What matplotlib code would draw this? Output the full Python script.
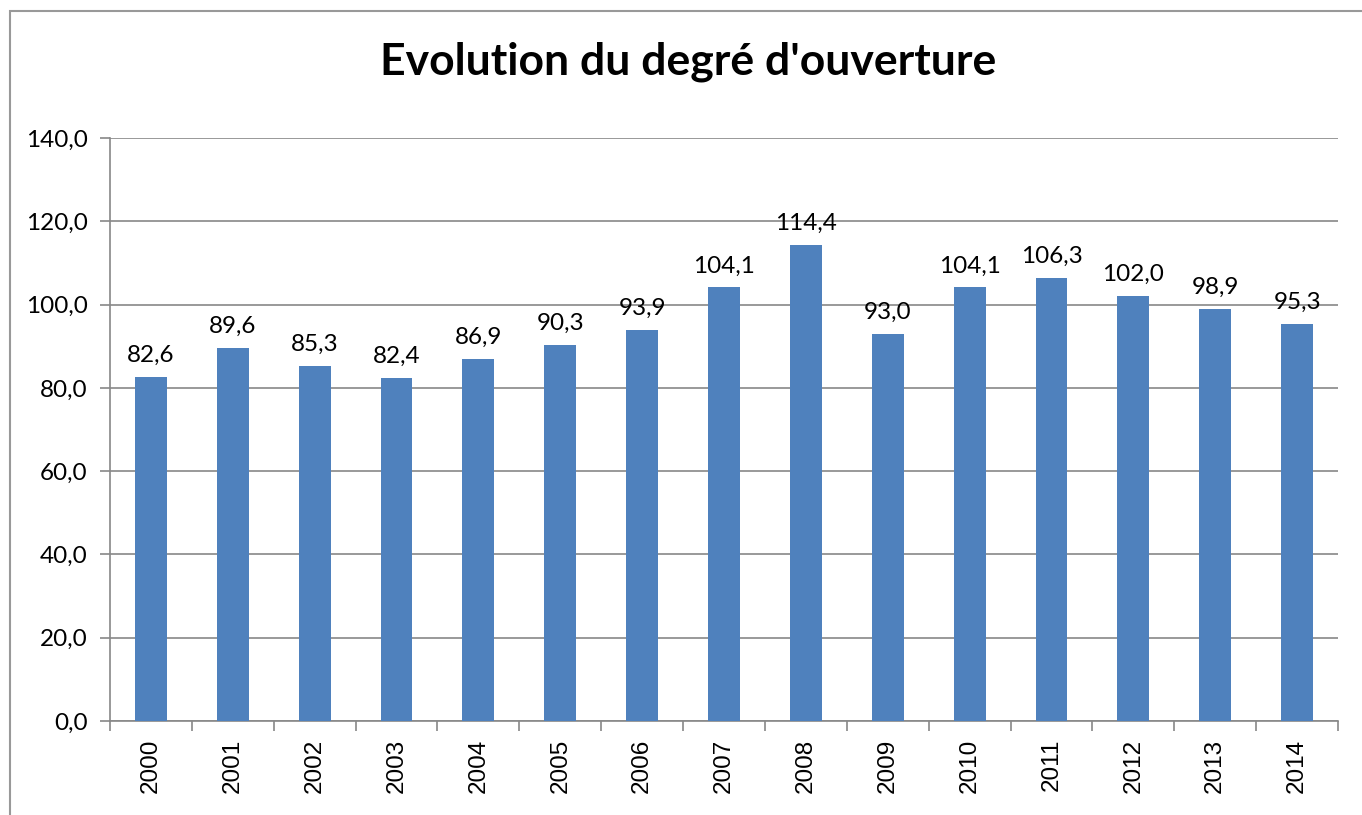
import matplotlib.pyplot as plt
import matplotlib.patches as patches
import numpy as np

years = ['2000', '2001', '2002', '2003', '2004', '2005', '2006', '2007',
         '2008', '2009', '2010', '2011', '2012', '2013', '2014']
values = [82.6, 89.6, 85.3, 82.4, 86.9, 90.3, 93.9, 104.1,
          114.4, 93.0, 104.1, 106.3, 102.0, 98.9, 95.3]
yticks = [0, 20, 40, 60, 80, 100, 120, 140]

plt.rcParams['font.family'] = ['Lato', 'DejaVu Sans']
grey = '#888888'

fig = plt.figure(figsize=(13.62, 8.15), dpi=100)
# chart frame (left/top edge visible)
fig.patches.append(patches.Rectangle((10 / 1362, -0.1), 1.2, 1 - 11 / 815 + 0.1,
                                     transform=fig.transFigure, fill=False,
                                     edgecolor='#999999', linewidth=1.5))

ax = fig.add_axes([110 / 1362, 1 - 721 / 815, 1228 / 1362, 583 / 815])
x = np.arange(len(years))
ax.bar(x, values, width=0.39, color='#4F81BD', zorder=3)

for xi, v in zip(x, values):
    ax.annotate(f'{v:.1f}'.replace('.', ','), (xi, v), xytext=(0, 8),
                textcoords='offset points', ha='center', va='bottom', fontsize=17.5)

ax.set_ylim(0, 140)
ax.set_xlim(-0.5, len(years) - 0.5)
ax.set_yticks(yticks)
ax.set_yticklabels([f'{t:.1f}'.replace('.', ',') for t in yticks], fontsize=17.5)
ax.yaxis.grid(True, color=grey, linewidth=1.2, zorder=0)
ax.tick_params(axis='y', direction='out', length=7, color=grey, width=1.2, pad=9)

ax.set_xticks(x)
ax.set_xticklabels(years, rotation=90, fontsize=17.5, family=['Liberation Sans'])
ax.set_xticks(np.arange(-0.5, len(years)), minor=True)
ax.tick_params(axis='x', which='major', length=0, pad=13)
ax.tick_params(axis='x', which='minor', direction='out', length=7, color=grey, width=1.2)

for side in ['top', 'right']:
    ax.spines[side].set_visible(False)
for side in ['left', 'bottom']:
    ax.spines[side].set_color(grey)
    ax.spines[side].set_linewidth(1.2)

fig.text(0.505, 1 - 62 / 815, "Evolution du degré d'ouverture", ha='center', va='center',
         fontsize=32, fontweight='bold')

fig.savefig('out.png', dpi=100)
